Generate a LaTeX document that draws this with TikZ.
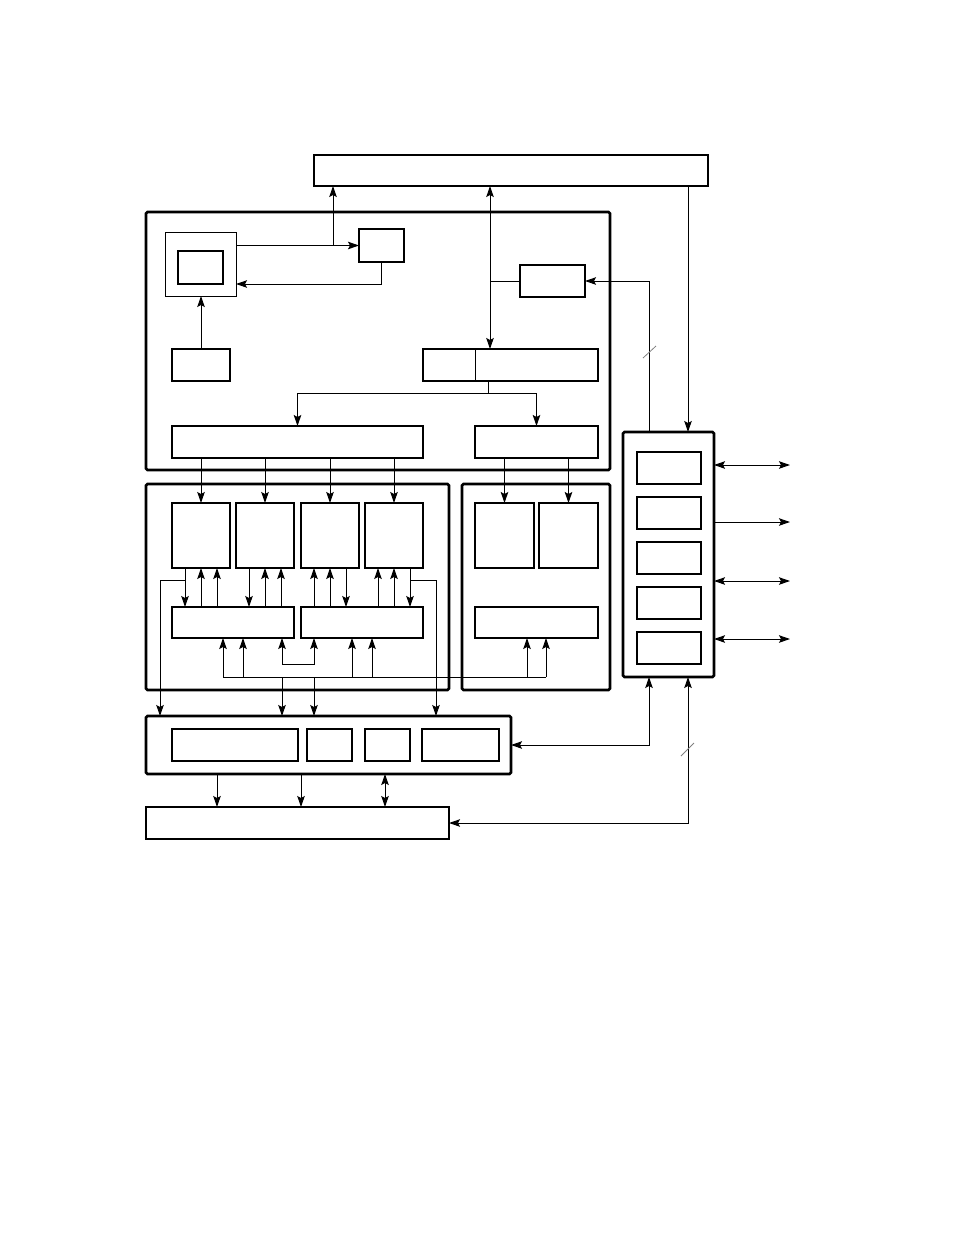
\documentclass[tikz,border=0pt]{standalone}
\usetikzlibrary{arrows.meta}
\begin{document}
\begin{tikzpicture}[x=1pt,y=-1pt,line width=1pt,
  >={Stealth[length=11pt,width=7.5pt,inset=2pt]},
  box/.style={draw,line width=1.6pt,inner sep=0pt,outer sep=0pt,anchor=north west},
  thinbox/.style={box,line width=1pt},
  frame/.style={box,line width=2.6pt,rounded corners=1.5pt},
  tick/.style={gray,line width=0.8pt}]
\useasboundingbox (0,0) rectangle (954,1235);

% top unit
\node[box,minimum width=394pt,minimum height=31pt] (top) at (314,155) {};

% control block
\node[frame,minimum width=464pt,minimum height=258pt] (ctl) at (146,212) {};
\node[thinbox,minimum width=71pt,minimum height=64pt] (disp) at (165,232) {};
\node[box,minimum width=45pt,minimum height=33pt] (dispin) at (178,251) {};
\node[box,minimum width=45pt,minimum height=33pt] (sm) at (359,229) {};
\node[box,minimum width=65pt,minimum height=32pt] (rbox) at (520,265) {};
\node[box,minimum width=58pt,minimum height=32pt] (blbox) at (172,349) {};
\node[box,minimum width=175pt,minimum height=32pt] (split) at (423,349) {};
\draw (475,0 |- split.north) -- (475,0 |- split.south);
\node[box,minimum width=251pt,minimum height=32pt] (wide) at (172,426) {};
\node[box,minimum width=123pt,minimum height=32pt] (rwide) at (475,426) {};

% processing blocks
\node[frame,minimum width=303pt,minimum height=206pt] (pb) at (146,484) {};
\node[frame,minimum width=148pt,minimum height=206pt] (pc) at (462,484) {};
\foreach \n/\x in {1/172,2/236,3/301,4/365}
  \node[box,minimum width=58pt,minimum height=65pt] (t\n) at (\x,503) {};
\foreach \n/\x in {1/475,2/539}
  \node[box,minimum width=59pt,minimum height=65pt] (c\n) at (\x,503) {};
\node[box,minimum width=122pt,minimum height=31pt] (m1) at (172,607) {};
\node[box,minimum width=122pt,minimum height=31pt] (m2) at (301,607) {};
\node[box,minimum width=123pt,minimum height=31pt] (m3) at (475,607) {};

% lower units
\node[frame,minimum width=365pt,minimum height=58pt] (dbus) at (146,716) {};
\node[thinbox,line width=1.3pt,minimum width=126pt,minimum height=32pt] (d1) at (172,729) {};
\node[thinbox,line width=1.3pt,minimum width=45pt,minimum height=32pt] (d2) at (307,729) {};
\node[thinbox,line width=1.3pt,minimum width=45pt,minimum height=32pt] (d3) at (365,729) {};
\node[thinbox,line width=1.3pt,minimum width=77pt,minimum height=32pt] (d4) at (422,729) {};
\node[box,minimum width=303pt,minimum height=32pt] (fbox) at (146,807) {};

% interface unit
\node[frame,minimum width=91pt,minimum height=245pt] (io) at (623,432) {};
\foreach \n in {1,...,5}
  \node[box,minimum width=64pt,minimum height=32pt] (e\n) at (637,{452+45*(\n-1)}) {};

% control block connections
\draw[->] (disp.east |- sm.west) -- (sm.west);
\draw[->] (333,0 |- sm.west) -- (333,0 |- top.south);
\draw[->] (sm.south) |- (disp.east |- 0,284);
\draw[->] (blbox.north) -- (blbox.north |- disp.south);
\draw[<->] (490,0 |- top.south) -- (490,0 |- split.north);
\draw (490,0 |- rbox.west) -- (rbox.west);
\draw[->] (649,0 |- io.north) |- (rbox.east);
\draw[tick] (643,358) -- (656,346);
\draw[->] (688,0 |- top.south) -- (688,0 |- io.north);
\coordinate (sj) at (488,393);
\draw (488,0 |- split.south) -- (sj);
\draw[->] (sj) -| (wide.north);
\draw[->] (sj) -| (rwide.north);

% into processing blocks
\foreach \n in {1,...,4}
  \draw[->] (t\n.north |- wide.south) -- (t\n.north);
\foreach \n in {1,2}
  \draw[->] (c\n.north |- rwide.south) -- (c\n.north);
\foreach \n in {1,2} {
  \draw[->] ([xshift=-16pt]t\n.south) -- ([xshift=-16pt]t\n.south |- m1.north);
  \draw[<-] (t\n.south) -- (t\n.south |- m1.north);
  \draw[<-] ([xshift=16pt]t\n.south) -- ([xshift=16pt]t\n.south |- m1.north);
}
\foreach \n in {3,4} {
  \draw[<-] ([xshift=-16pt]t\n.south) -- ([xshift=-16pt]t\n.south |- m2.north);
  \draw[<-] (t\n.south) -- (t\n.south |- m2.north);
  \draw[->] ([xshift=16pt]t\n.south) -- ([xshift=16pt]t\n.south |- m2.north);
}
\draw[->] ([xshift=-16pt]t1.south) ++(0,12) -| (160,0 |- dbus.north);
\draw[->] ([xshift=16pt]t4.south) ++(0,12) -| (436,0 |- dbus.north);

% bus under the processing blocks
\draw (223,677) -- (546,677);
\foreach \x in {223,243}
  \draw[->] (\x,677) -- (\x,0 |- m1.south);
\foreach \x in {352,372}
  \draw[->] (\x,677) -- (\x,0 |- m2.south);
\foreach \x in {527,546}
  \draw[->] (\x,677) -- (\x,0 |- m3.south);
\draw[<->] (282,0 |- m1.south) |- (314,664) -- (314,0 |- m2.south);
\foreach \x in {282,314}
  \draw[->] (\x,677) -- (\x,0 |- dbus.north);

% lower connections
\foreach \x in {217,301}
  \draw[->] (\x,0 |- dbus.south) -- (\x,0 |- fbox.north);
\draw[<->] (385,0 |- dbus.south) -- (385,0 |- fbox.north);
\draw[<->] (dbus.east) -| (649,0 |- io.south);
\draw[<->] (fbox.east) -| (688,0 |- io.south);
\draw[tick] (681,756) -- (694,743);

% external lines
\coordinate (x1) at (790,465);
\coordinate (x2) at (790,522);
\coordinate (x3) at (790,581);
\coordinate (x4) at (790,639);
\draw[<->] (io.east |- x1) -- (x1);
\draw[->] (io.east |- x2) -- (x2);
\draw[<->] (io.east |- x3) -- (x3);
\draw[<->] (io.east |- x4) -- (x4);
\end{tikzpicture}
\end{document}
